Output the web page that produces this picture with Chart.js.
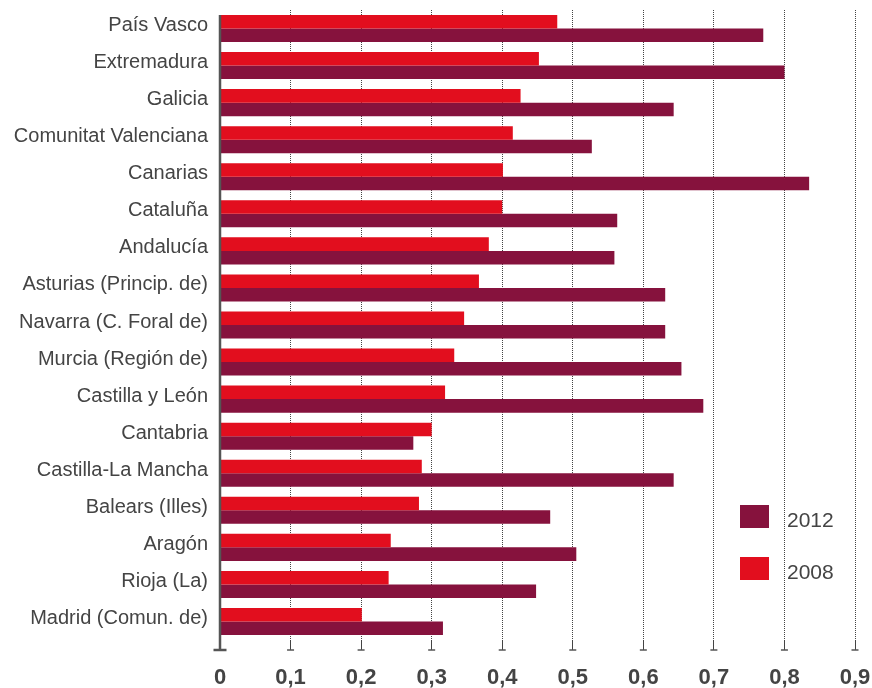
<!DOCTYPE html>
<html>
<head>
<meta charset="utf-8">
<script src="https://cdn.jsdelivr.net/npm/chart.js@4.4.1/dist/chart.umd.min.js"></script>
<style>
  html, body { margin: 0; padding: 0; background: #fff; }
  #wrap { width: 872px; height: 688px; }
</style>
</head>
<body>
<div id="wrap"><canvas id="bar-chart" width="872" height="688"></canvas></div>
<script>
// raw data
regions = ["País Vasco", "Extremadura", "Galicia", "Comunitat Valenciana", "Canarias",
    "Cataluña", "Andalucía", "Asturias (Princip. de)", "Navarra (C. Foral de)",
    "Murcia (Región de)", "Castilla y León", "Cantabria", "Castilla-La Mancha",
    "Balears (Illes)", "Aragón", "Rioja (La)", "Madrid (Comun. de)"];

values2008 = [0.478, 0.452, 0.426, 0.415, 0.401, 0.400, 0.381, 0.367, 0.346,
    0.332, 0.319, 0.300, 0.286, 0.282, 0.242, 0.239, 0.201];
values2012 = [0.770, 0.800, 0.643, 0.527, 0.835, 0.563, 0.559, 0.631, 0.631,
    0.654, 0.685, 0.274, 0.643, 0.468, 0.505, 0.448, 0.316];

xTicks = [0, 0.1, 0.2, 0.3, 0.4, 0.5, 0.6, 0.7, 0.8, 0.9];

const red = "#e20e1e";
const maroon = "#86123d";
const grey = "#444";

// y axis line with the little foot, tick dashes under the grid and the legend boxes
const decorations = {
    id: "decorations",
    afterDraw(chart) {
        const ctx = chart.ctx;
        const area = chart.chartArea;
        const x = chart.scales.x;
        const footY = area.bottom + 10;
        ctx.save();
        ctx.strokeStyle = "#555";
        ctx.lineWidth = 1.5;
        xTicks.forEach(function (t) {
            if (t === 0) return;
            const px = x.getPixelForValue(t);
            ctx.beginPath();
            ctx.moveTo(px - 3.5, footY);
            ctx.lineTo(px + 3.5, footY);
            ctx.stroke();
        });
        const x0 = x.getPixelForValue(0);
        ctx.lineWidth = 2.5;
        ctx.beginPath();
        ctx.moveTo(x0, area.top + 5);
        ctx.lineTo(x0, footY);
        ctx.stroke();
        ctx.beginPath();
        ctx.moveTo(x0 - 6.5, footY);
        ctx.lineTo(x0 + 6.5, footY);
        ctx.stroke();

        // legend: 2012 first, then 2008
        const sets = chart.data.datasets.slice().reverse();
        ctx.font = "21px 'Liberation Sans', Arial, sans-serif";
        ctx.textBaseline = "middle";
        ctx.textAlign = "left";
        sets.forEach(function (ds, i) {
            const by = 505 + i * 52;
            ctx.fillStyle = ds.backgroundColor;
            ctx.fillRect(740, by, 29, 23);
            ctx.fillStyle = grey;
            ctx.fillText(ds.label, 787, by + 16);
        });
        ctx.restore();
    }
};

const dataObj = {
    labels: regions,
    datasets: [
        {
            label: "2008",
            data: values2008,
            backgroundColor: red,
            barPercentage: 1,
            categoryPercentage: 0.73
        },
        {
            label: "2012",
            data: values2012,
            backgroundColor: maroon,
            barPercentage: 1,
            categoryPercentage: 0.73
        }
    ]
};

new Chart("bar-chart", {
    type: "bar",
    data: dataObj,
    plugins: [decorations],
    options: {
        indexAxis: "y",
        responsive: false,
        animation: false,
        layout: { padding: { top: 10, left: 0, right: 17, bottom: 0 } },
        plugins: {
            legend: { display: false },
            tooltip: { enabled: false }
        },
        scales: {
            x: {
                min: 0,
                max: 0.9,
                afterBuildTicks(axis) {
                    axis.ticks = xTicks.map(function (v) { return { value: v }; });
                },
                afterFit(axis) {
                    axis.height = 48;
                    axis.paddingLeft = 0;
                    axis.paddingRight = 0;
                },
                grid: {
                    color: function (c) { return c.tick && c.tick.value === 0 ? "rgba(0,0,0,0)" : "#444"; },
                    lineWidth: 1,
                    tickLength: 10,
                    drawOnChartArea: true
                },
                border: { display: false, dash: [1, 1] },
                ticks: {
                    color: grey,
                    padding: 15,
                    maxRotation: 0,
                    font: { family: "'Liberation Sans', Arial, sans-serif", size: 22, weight: "bold" },
                    callback: function (v) { return String(v).replace(".", ","); }
                }
            },
            y: {
                afterFit(axis) {
                    axis.width = 220;
                    axis.paddingTop = 0;
                    axis.paddingBottom = 0;
                },
                grid: { display: false, drawTicks: false },
                border: { display: false },
                ticks: {
                    color: grey,
                    padding: 12,
                    labelOffset: -3,
                    font: { family: "'Liberation Sans', Arial, sans-serif", size: 20 }
                }
            }
        }
    }
});
</script>
</body>
</html>
